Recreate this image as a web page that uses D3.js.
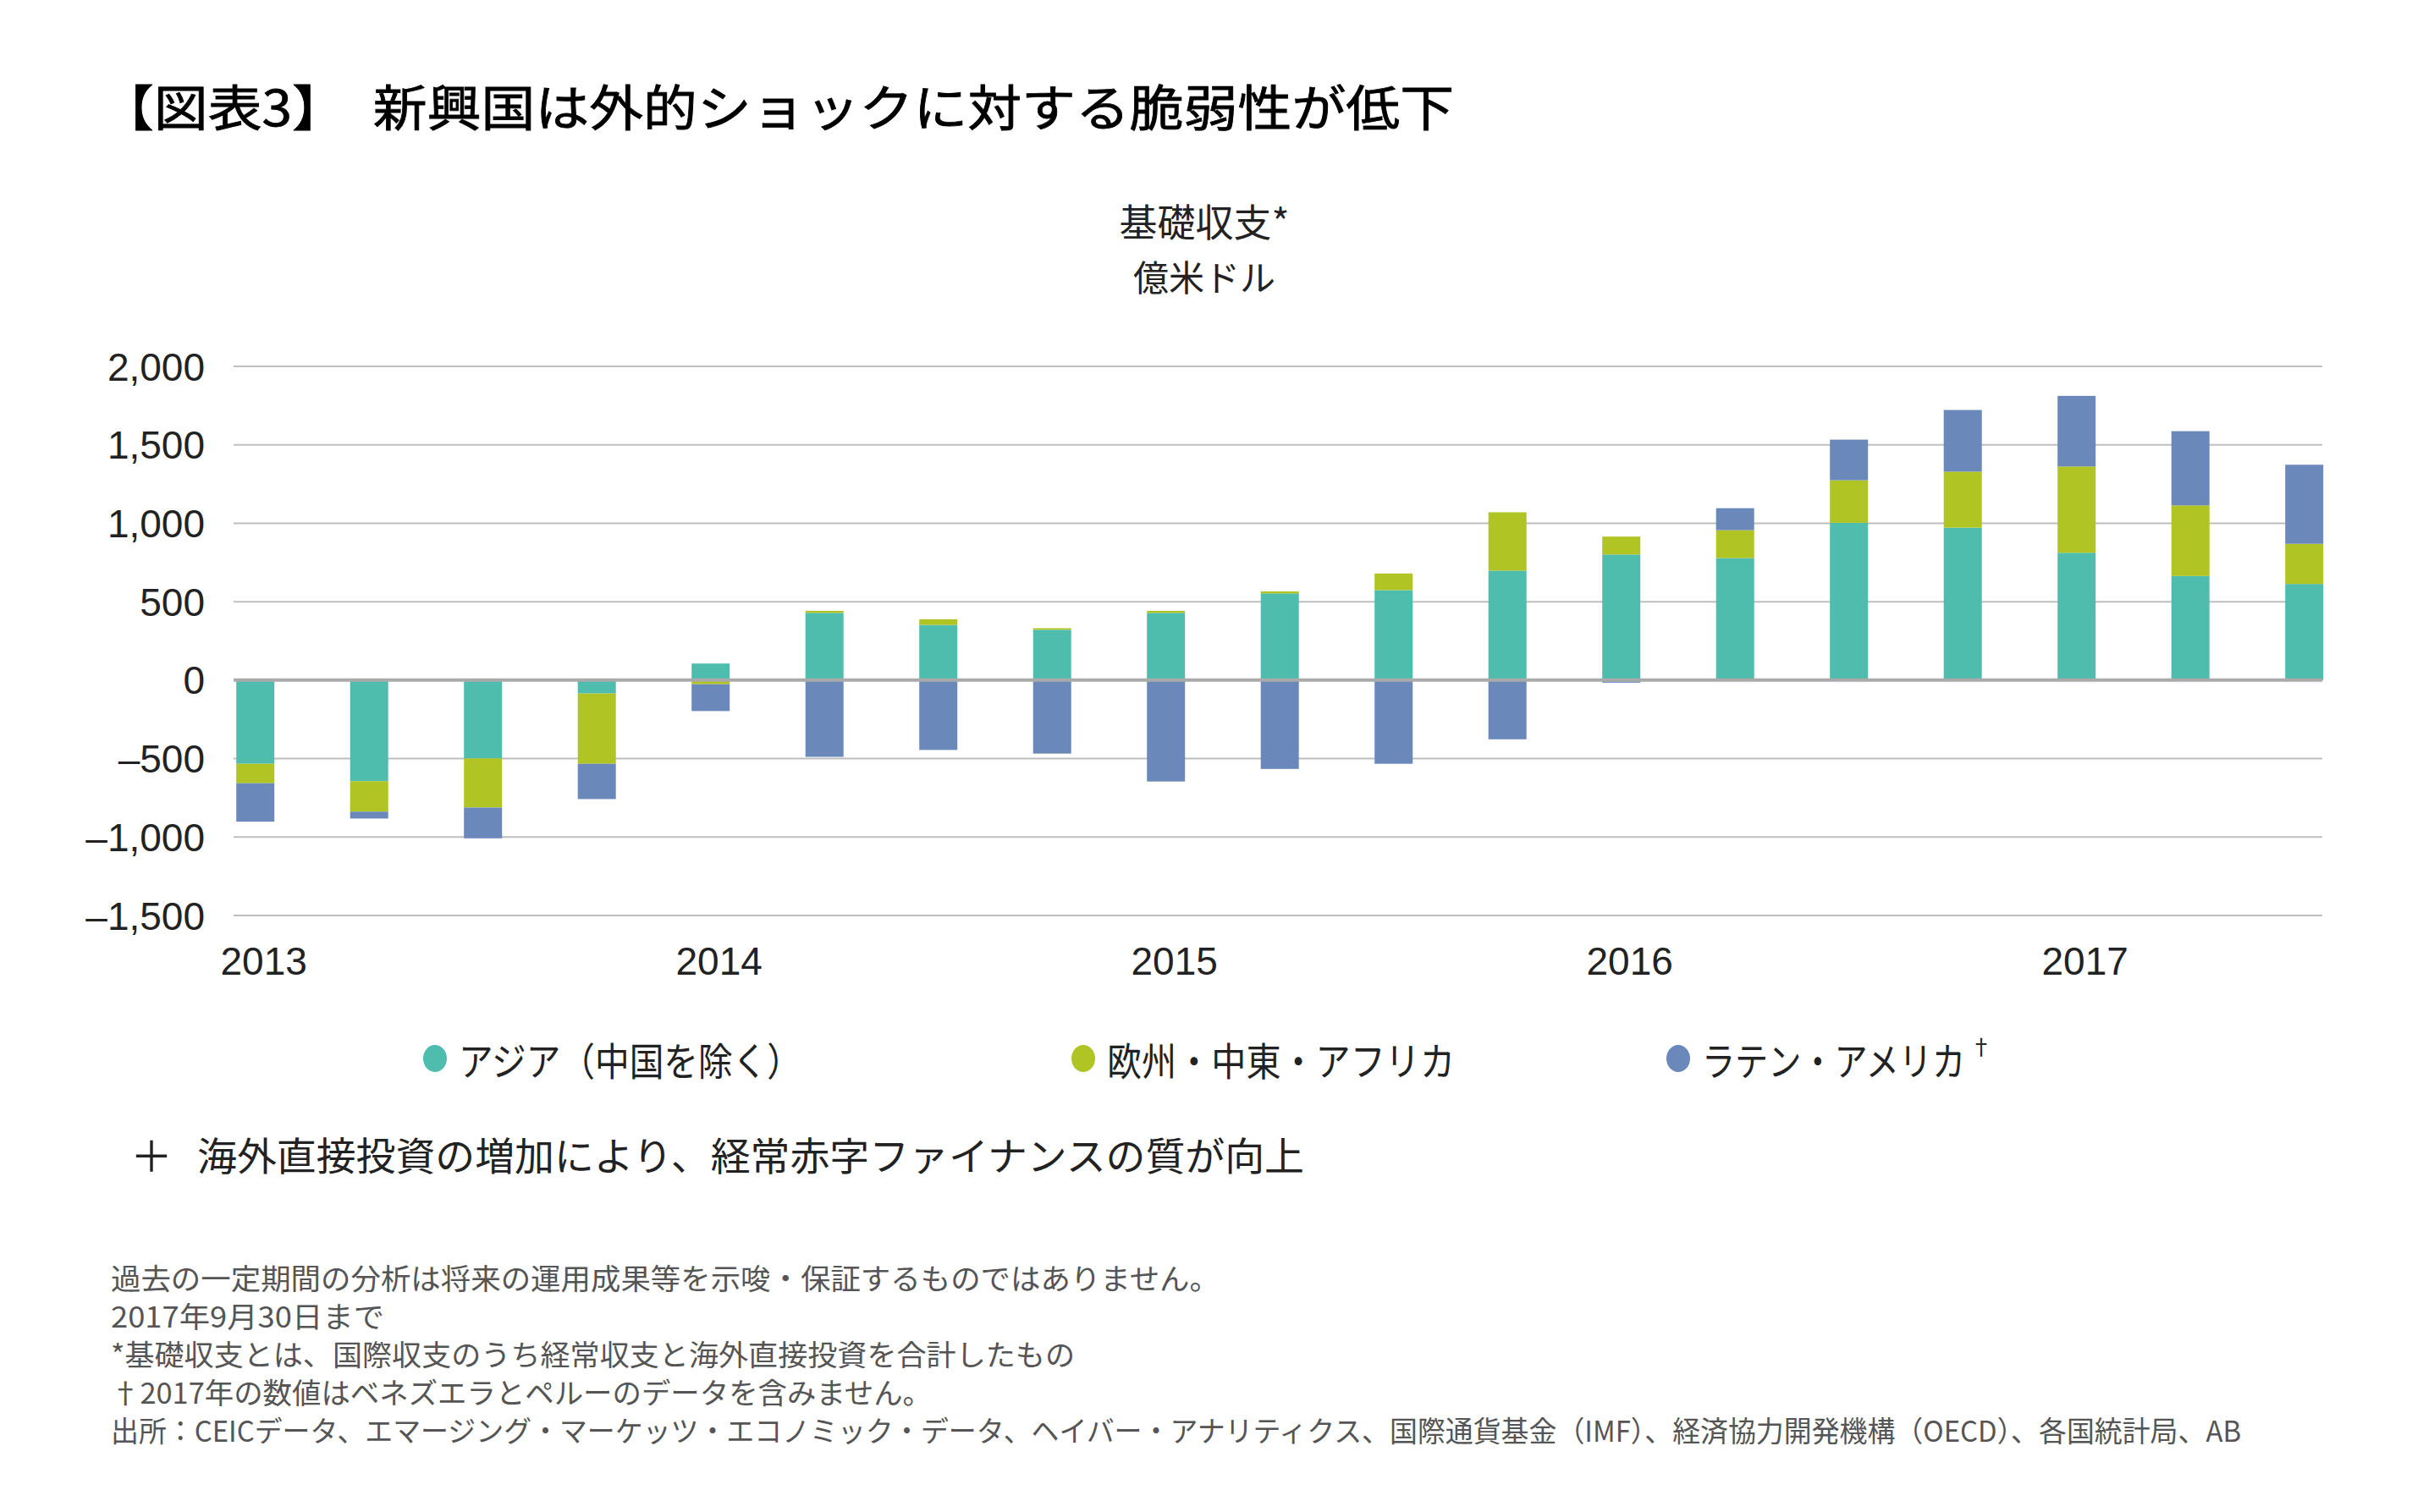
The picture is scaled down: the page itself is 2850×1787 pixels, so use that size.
<!DOCTYPE html>
<html><head><meta charset="utf-8">
<script src="https://cdn.jsdelivr.net/npm/d3@7"></script>
<style>html,body{margin:0;padding:0;background:#fff;}</style>
</head><body>
<script>
// ---- data ----
const categories = ["2013Q1","2013Q2","2013Q3","2013Q4","2014Q1","2014Q2","2014Q3","2014Q4","2015Q1","2015Q2","2015Q3","2015Q4","2016Q1","2016Q2","2016Q3","2016Q4","2017Q1","2017Q2","2017Q3"];
const asia  = [-533,-644,-499,-85,106,429,352,321,429,553,574,698,801,778,1003,972,812,664,613];
const emea  = [-124,-194,-313,-448,-26,13,36,10,13,13,106,372,114,178,271,357,550,450,256];
const latam = [-245,-44,-196,-225,-171,-489,-445,-468,-646,-566,-533,-377,-16,140,259,393,450,473,504];
const seriesNames = ["アジア（中国を除く）","欧州・中東・アフリカ","ラテン・アメリカ"];
const seriesMarks = ["","","†"];
const seriesColors = ["#4FBDAE","#B0C423","#6A89BA"];
const yTicks = [2000,1500,1000,500,0,-500,-1000,-1500];
const yearLabels = ["2013","2014","2015","2016","2017"];
const yearIndex = [0,4,8,12,16];
const titleText = "【図表3】　新興国は外的ショックに対する脆弱性が低下";
const chartTitle = "基礎収支*";
const chartUnit = "億米ドル";
const plusText = "海外直接投資の増加により、経常赤字ファイナンスの質が向上";
const footnotes = [
 "過去の一定期間の分析は将来の運用成果等を示唆・保証するものではありません。",
 "2017年9月30日まで",
 "*基礎収支とは、国際収支のうち経常収支と海外直接投資を合計したもの",
 "†2017年の数値はベネズエラとペルーのデータを含みません。",
 "出所：CEICデータ、エマージング・マーケッツ・エコノミック・データ、ヘイバー・アナリティクス、国際通貨基金（IMF）、経済協力開発機構（OECD）、各国統計局、AB"
];

// ---- layout ----
const W = 2850, H = 1787;
const JP = "'Noto Sans CJK JP','Noto Sans',sans-serif";
const NUM = "'Liberation Sans Narrow','Liberation Sans',Arial,sans-serif";
const svg = d3.select("body").append("svg").attr("width",W).attr("height",H);
svg.append("rect").attr("width",W).attr("height",H).attr("fill","#fff");

const plotL = 276, plotR = 2744;
const x = d3.scalePoint().domain(categories).range([301.7, 2722.7]);
const barW = 45;
const y = d3.scaleLinear().domain([-1500,2000]).range([1082,433]);

// title
svg.append("text").attr("x",118).attr("y",124).attr("dominant-baseline","central")
  .attr("font-family",JP).attr("font-size",58).attr("font-weight",400).attr("fill","#000")
  .attr("stroke","#000").attr("stroke-width",0.8)
  .attr("textLength",1600).attr("lengthAdjust","spacingAndGlyphs").text(titleText);
svg.append("text").attr("x",1423).attr("y",260).attr("text-anchor","middle").attr("dominant-baseline","central")
  .attr("font-family",JP).attr("font-size",45).attr("fill","#222").text(chartTitle);
svg.append("text").attr("x",1423).attr("y",325).attr("text-anchor","middle").attr("dominant-baseline","central")
  .attr("font-family",JP).attr("font-size",42).attr("fill","#222").text(chartUnit);

// grid
const g = svg.append("g");
g.selectAll("line.grid").data(yTicks.filter(d=>d!==0)).join("line")
  .attr("x1",plotL).attr("x2",plotR).attr("y1",d=>y(d)).attr("y2",d=>y(d))
  .attr("stroke","#BEBEBE").attr("stroke-width",2);

// y axis labels
const yAxis = d3.axisLeft(y).tickValues(yTicks).tickSize(0).tickPadding(0)
  .tickFormat(d => (d<0?"\u2013":"") + d3.format(",")(Math.abs(d)));
const ya = svg.append("g").attr("transform",`translate(242,0)`).call(yAxis);
ya.select(".domain").remove();
ya.selectAll("text").attr("font-family",NUM).attr("font-size",46).attr("fill","#222").attr("dy","0.35em");

// stacked bars
const rows = categories.map((c,i)=>({cat:c, a:asia[i], e:emea[i], l:latam[i]}));
const stack = d3.stack().keys(["a","e","l"]).offset(d3.stackOffsetDiverging);
const stacked = stack(rows);
g.selectAll("g.series").data(stacked).join("g").attr("fill",(d,i)=>seriesColors[i])
  .selectAll("rect").data(d=>d).join("rect")
  .attr("x",d=>x(d.data.cat)-barW/2).attr("width",barW)
  .attr("y",d=>y(Math.max(d[0],d[1]))).attr("height",d=>Math.abs(y(d[0])-y(d[1])));

// zero line
g.append("line").attr("x1",plotL).attr("x2",plotR).attr("y1",y(0)).attr("y2",y(0))
  .attr("stroke","#AAAAAA").attr("stroke-width",4);

// x labels
svg.selectAll("text.year").data(yearLabels).join("text")
  .attr("x",(d,i)=>x(categories[yearIndex[i]])+10).attr("y",1136)
  .attr("text-anchor","middle").attr("dominant-baseline","central")
  .attr("font-family",NUM).attr("font-size",46).attr("fill","#222").text(d=>d);

// legend
const legX = [514,1280,1983];
const leg = svg.selectAll("g.leg").data(seriesNames).join("g").attr("transform",(d,i)=>`translate(${legX[i]},1251)`);
leg.append("ellipse").attr("rx",14).attr("ry",16).attr("fill",(d,i)=>seriesColors[i]);
const legW = [405,411,311];
const lt = leg.append("text").attr("x",28).attr("dominant-baseline","central").attr("font-family",JP)
  .attr("font-size",46).attr("fill","#222");
lt.append("tspan").attr("textLength",(d,i)=>legW[i]).attr("lengthAdjust","spacingAndGlyphs").text(d=>d);
lt.append("tspan").attr("dx",6).attr("dy",-16).attr("font-size",26).text((d,i)=>seriesMarks[i]);

// plus line
svg.append("text").attr("x",179).attr("y",1363).attr("text-anchor","middle").attr("dominant-baseline","central")
  .attr("font-family",JP).attr("font-size",50).attr("fill","#222").text("＋");
svg.append("text").attr("x",233).attr("y",1363).attr("dominant-baseline","central")
  .attr("font-family",JP).attr("font-size",46).attr("fill","#222")
  .attr("textLength",1308).attr("lengthAdjust","spacingAndGlyphs").text(plusText);

// footnotes
const fnW = [1310,323,1139,970,2517];
svg.selectAll("text.fn").data(footnotes).join("text")
  .attr("x",131).attr("y",(d,i)=>1509+i*45).attr("dominant-baseline","central")
  .attr("font-family",JP).attr("font-size",34).attr("fill","#555")
  .attr("textLength",(d,i)=>fnW[i]).attr("lengthAdjust","spacingAndGlyphs").text(d=>d);
</script>
</body></html>
